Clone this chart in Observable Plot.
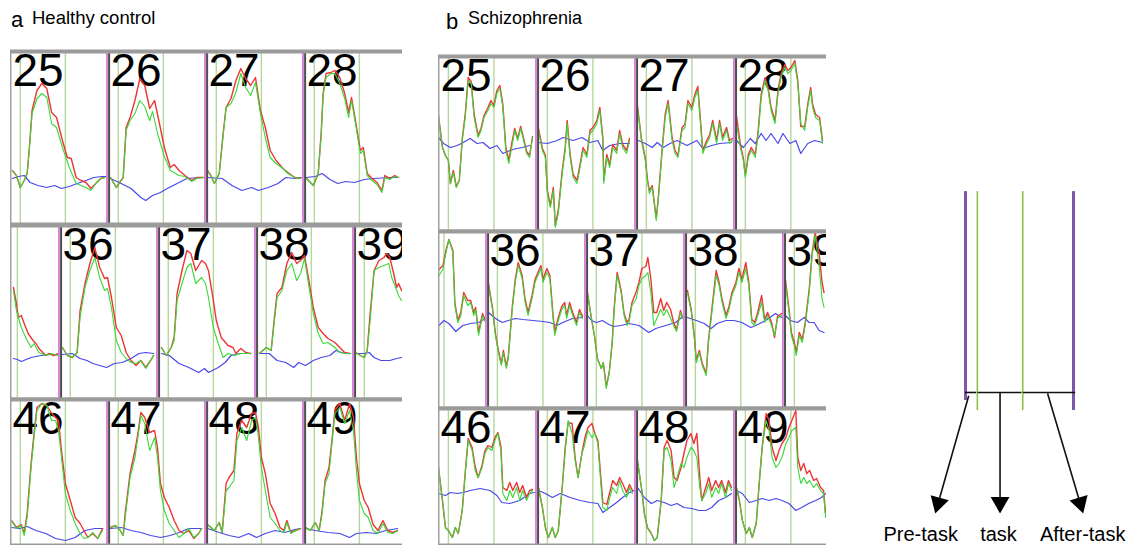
<!DOCTYPE html>
<html><head><meta charset="utf-8">
<script src="https://cdn.jsdelivr.net/npm/d3@7"></script>
<script src="https://cdn.jsdelivr.net/npm/@observablehq/plot@0.6"></script>
<style>
body{margin:0;background:#fff;}
#fig{position:relative;width:1131px;height:545px;overflow:hidden;background:#fff;font-family:"Liberation Sans",Arial,Helvetica,sans-serif;}
.lbl{position:absolute;white-space:nowrap;color:#000;line-height:1;}
.row{position:absolute;overflow:hidden;}
.row text.ch{letter-spacing:-1.5px;}
</style></head><body><div id="fig"></div>
<script>
// ---- task timing (per channel block, time units 0..100) ----
const TASK_ON = 10, TASK_OFF = 56;

// ---- a: Healthy control ----
const hcRow1 = [
 {ch:25, slot:0,
  oxy:[[2,0.8],[6,0.3],[10,-0.9],[14,-0.2],[17,0.5],[19,2.8],[22,6.8],[27,8.8],[32,9.5],[37,9.0],[42,6.6],[47,6.1],[53,3.8],[58,2.1],[62,2.0],[67,0.1],[72,-0.2],[77,-0.4],[82,-1.0],[87,-0.5],[92,0],[96,0.1]],
  total:[[2,0.8],[6,0.3],[10,-0.9],[14,-0.2],[17,0.5],[19,2.6],[22,6.5],[27,8.0],[32,8.5],[37,8.1],[42,5.5],[47,5.1],[53,3.1],[60,1.1],[67,-0.5],[72,-0.7],[77,-0.9],[82,-1.2],[87,-0.5],[92,0],[96,0.1]],
  deoxy:[[2,0],[8,0.2],[14,0.3],[20,-0.4],[28,-0.7],[37,-0.9],[45,-0.7],[52,-1.0],[60,-0.8],[68,-0.5],[77,-0.2],[85,0.1],[93,0.2],[98,0.2]]},
 {ch:26, slot:1,
  oxy:[[2,0.1],[8,-0.9],[12,-0.3],[15,0.1],[18,5.1],[22,6.1],[27,7.8],[32,10.0],[37,9.3],[42,7.0],[47,7.8],[52,5.5],[57,3.1],[63,1.1],[67,1.4],[72,0.8],[78,0.3],[85,-0.2],[90,0.1],[97,0.1]],
  total:[[2,0.1],[8,-0.9],[12,-0.3],[15,0.1],[18,4.8],[22,5.8],[27,6.5],[32,7.8],[37,7.2],[42,5.8],[45,6.7],[50,4.5],[57,2.2],[63,0.8],[72,0.3],[78,0.2],[85,-0.3],[90,0],[97,0.1]],
  deoxy:[[2,0],[13,-0.5],[23,-1.0],[33,-1.9],[38,-2.2],[45,-1.7],[53,-1.4],[60,-1.0],[70,-0.5],[80,0],[93,0.1],[98,0.1]]},
 {ch:27, slot:2,
  oxy:[[1,0.8],[5,0.2],[8,-0.5],[13,0.5],[17,4.5],[20,7.1],[25,8.0],[30,9.8],[35,11.0],[40,10.0],[45,9.3],[50,10.1],[55,6.8],[60,5.1],[65,2.8],[71,1.8],[78,1.0],[83,0.6],[90,0.1],[96,0]],
  total:[[1,0.8],[5,0.2],[8,-0.5],[13,0.5],[17,4.3],[20,7.1],[25,7.5],[30,8.6],[35,10.5],[40,9.1],[45,8.3],[50,9.6],[55,6.5],[60,4.1],[65,2.1],[71,1.5],[78,1.0],[83,0.5],[90,0.1],[96,0]],
  deoxy:[[1,0.1],[16,0],[26,-0.7],[36,-1.2],[46,-0.9],[53,-1.2],[63,-0.9],[73,-0.5],[81,0.1],[90,0],[97,0.1]]},
 {ch:28, slot:3,
  oxy:[[2,0],[9,-0.7],[14,0.5],[17,4.5],[19,8.5],[22,10.5],[27,10.6],[31,10.8],[36,10.1],[41,8.5],[45,6.6],[48,8.1],[52,5.8],[57,2.8],[60,3.1],[64,0.5],[69,0],[74,-0.4],[79,-1.2],[82,0.3],[87,0],[92,0.3],[96,0.1]],
  total:[[2,0],[9,-0.7],[14,0.5],[17,4.3],[19,8.3],[22,10.1],[27,10.5],[31,10.5],[36,9.5],[41,8.0],[45,6.1],[48,7.8],[52,5.5],[57,2.5],[60,2.8],[64,0.3],[69,-0.2],[74,-0.6],[79,-1.4],[82,0.1],[87,-0.1],[92,0.2],[96,0.1]],
  deoxy:[[2,0.1],[11,0.2],[18,0.5],[26,-0.1],[34,-0.5],[42,-0.3],[51,-0.4],[61,-0.1],[71,0],[87,0.1],[96,0.1]]}
];
const hcRow2 = [
 {ch:35, slot:-1,
  oxy:[[52,6.8],[55,5.2],[57,3.8],[60,4.0],[63,3.2],[67,2.2],[72,1.5],[75,1.2],[78,0.7],[82,0.3],[85,0],[88,0.2],[93,0],[98,0.2]],
  total:[[52,6.5],[55,4.5],[60,2.8],[65,1.7],[70,0.8],[73,1.2],[78,0.3],[85,0],[90,0.2],[98,0]],
  deoxy:[[52,-0.3],[56,-0.4],[60,-0.6],[65,-0.4],[70,-0.2],[80,0],[90,0.1],[98,0.1]]},
 {ch:36, slot:0,
  oxy:[[2,0.8],[7,0],[12,-0.2],[17,0.3],[20,4.5],[25,7.2],[30,9.2],[35,10.8],[40,8.8],[45,7.7],[48,7.8],[52,5.8],[57,2.8],[62,2.0],[67,0.3],[72,-0.5],[77,-1.0],[82,-0.5],[87,-1.2],[92,-0.5],[95,0]],
  total:[[2,0.8],[7,0],[12,-0.2],[17,0.3],[20,3.8],[25,6.8],[30,8.5],[35,9.8],[40,7.8],[45,6.5],[48,6.7],[52,4.8],[57,1.5],[62,0.3],[67,-0.3],[72,-0.7],[77,-0.8],[82,-0.5],[87,-1.3],[92,-0.5],[95,0]],
  deoxy:[[2,0.1],[12,0.2],[20,-0.3],[27,-0.5],[33,-0.8],[40,-1.0],[47,-1.2],[55,-0.8],[63,-0.7],[72,-0.3],[80,0.2],[87,0.3],[95,0.2]]},
 {ch:37, slot:1,
  oxy:[[3,0.8],[8,0],[13,0.8],[16,1.8],[19,6.2],[24,8.5],[29,10.5],[33,10.2],[38,8.5],[44,9.5],[48,9.2],[51,8.5],[56,5.5],[59,3.5],[64,1.8],[71,1.0],[76,0.8],[79,0.2],[84,0.7],[89,0.3],[94,0.2]],
  total:[[3,0.8],[8,0],[13,0.8],[16,1.5],[19,5.5],[24,7.2],[29,8.8],[33,9.2],[38,7.2],[44,7.8],[48,7.2],[51,5.8],[56,2.8],[61,1.2],[66,-0.2],[71,0.2],[77,0],[84,0.2],[94,0.2]],
  deoxy:[[3,0.2],[11,0],[21,-0.8],[31,-1.2],[41,-1.7],[47,-1.3],[51,-1.7],[61,-1.2],[68,-0.7],[74,0],[84,0.2],[94,0.2]]},
 {ch:38, slot:2,
  oxy:[[3,0.2],[10,0.8],[15,0.5],[18,3.5],[21,6.2],[26,6.8],[31,9.2],[36,10.3],[41,9.2],[45,9.5],[49,10.0],[53,7.8],[58,4.8],[63,2.8],[68,2.2],[73,1.7],[80,1.3],[85,0.8],[90,0.3],[95,0.2]],
  total:[[3,0.2],[10,0.8],[15,0.5],[18,3.2],[21,5.8],[26,6.5],[31,8.5],[36,9.2],[41,7.5],[45,8.2],[49,9.7],[53,7.2],[58,4.2],[63,2.2],[68,1.2],[73,1.3],[80,0.8],[85,0.3],[90,0.2],[95,0.2]],
  deoxy:[[3,0.2],[13,0.2],[21,-0.5],[30,-0.7],[38,-1.2],[43,-0.7],[50,-1.0],[58,-0.5],[66,-0.2],[75,0],[81,0.5],[90,0.2],[96,0.2]]},
 {ch:39, slot:3,
  oxy:[[1,0.3],[6,0],[10,-0.2],[13,0.5],[16,4.2],[20,8.5],[25,9.5],[30,9.8],[33,10.2],[36,9.8],[40,8.2],[43,6.8],[45,7.2],[48,6.5]],
  total:[[1,0.3],[6,0],[10,-0.2],[13,0.5],[16,3.5],[20,8.5],[25,8.8],[30,9.0],[35,9.2],[38,7.8],[42,6.8],[45,6.0],[48,5.5]],
  deoxy:[[1,0.2],[10,0.2],[15,0.3],[20,-0.2],[27,-0.5],[36,-0.5],[43,-0.3],[48,-0.2]]}
];
const hcRow3 = [
 {ch:46, slot:0,
  oxy:[[1,0.7],[6,0],[11,0.3],[14,-0.6],[17,1.4],[21,6.4],[24,9.4],[27,12.0],[32,12.4],[37,12.2],[42,11.4],[46,11.0],[49,10.7],[52,7.7],[56,4.4],[61,2.7],[66,1.0],[71,0.4],[75,-0.3],[79,-1.0],[84,-0.6],[89,-1.1],[94,-0.1]],
  total:[[1,0.7],[6,-0.1],[11,0.2],[14,-0.8],[17,1.0],[21,6.0],[24,9.0],[27,11.7],[32,12.4],[37,12.2],[42,10.7],[46,10.7],[49,9.7],[52,7.0],[56,3.4],[61,1.7],[66,0.4],[71,-0.6],[75,-1.1],[79,-1.0],[84,-0.5],[89,-1.1],[94,-0.3]],
  deoxy:[[1,0],[9,-0.1],[17,0.1],[26,-0.3],[36,-0.6],[46,-1.1],[56,-1.3],[66,-1.0],[76,-0.3],[86,-0.1],[94,-0.1]]},
 {ch:47, slot:1,
  oxy:[[2,0],[7,0.2],[12,-0.3],[15,-0.8],[17,1.4],[22,5.4],[27,7.7],[30,9.4],[33,11.5],[37,11.0],[42,9.5],[47,9.7],[50,8.0],[53,4.4],[57,3.0],[62,2.0],[67,0.7],[72,-0.3],[77,-0.6],[82,-0.3],[87,-1.1],[92,-0.6],[95,-0.1]],
  total:[[2,0],[7,0.2],[12,-0.3],[15,-0.8],[17,1.0],[22,5.0],[27,7.0],[30,9.0],[33,11.2],[37,10.4],[42,7.7],[47,9.0],[50,7.0],[53,3.7],[57,1.7],[62,0.4],[67,-0.3],[72,-1.0],[77,-0.6],[82,-0.1],[87,-1.0],[92,-0.6],[95,-0.1]],
  deoxy:[[2,-0.1],[13,0],[23,-0.3],[33,-0.5],[43,-0.8],[53,-1.0],[63,-0.8],[72,-0.5],[82,-0.1],[95,-0.1]]},
 {ch:48, slot:2,
  oxy:[[1,0.3],[8,-0.3],[13,0.5],[16,-0.5],[20,4.4],[23,5.0],[28,5.7],[31,9.4],[36,10.7],[41,10.0],[46,11.4],[50,11.5],[53,10.0],[56,7.0],[60,5.4],[65,2.4],[70,1.4],[75,0],[79,-0.3],[82,0.7],[86,-0.5],[91,-0.3],[96,-0.1]],
  total:[[1,0.3],[8,-0.3],[13,0.5],[16,-0.5],[20,3.7],[23,4.0],[28,4.7],[31,8.7],[36,10.0],[41,8.7],[46,10.7],[50,11.0],[53,9.0],[56,6.0],[60,3.7],[65,1.0],[70,0.4],[75,-0.3],[79,-0.5],[82,0.5],[86,-0.6],[91,-0.3],[96,-0.1]],
  deoxy:[[1,-0.1],[13,-0.5],[23,-0.8],[33,-1.0],[43,-0.6],[51,-1.0],[60,-0.6],[70,-0.3],[80,-0.5],[90,-0.2],[96,-0.1]]},
 {ch:49, slot:3,
  oxy:[[1,0],[6,-0.3],[11,0.5],[15,-0.3],[18,1.7],[21,4.7],[25,6.0],[28,8.7],[31,11.7],[36,12.4],[41,10.7],[46,12.4],[50,11.0],[53,7.0],[56,4.4],[61,2.7],[65,2.0],[70,0.3],[75,-0.3],[80,0.7],[85,-0.3],[90,-0.5],[95,-0.3]],
  total:[[1,0],[6,-0.3],[11,0.5],[15,-0.3],[18,1.4],[21,4.4],[25,5.4],[28,8.4],[31,11.4],[36,12.0],[41,10.4],[46,11.7],[50,9.7],[53,5.7],[56,2.7],[61,1.4],[65,1.0],[70,-0.3],[75,-0.6],[80,0.4],[85,-0.5],[90,-0.6],[95,-0.3]],
  deoxy:[[1,-0.1],[11,-0.3],[24,-0.5],[36,-0.6],[46,-1.0],[53,-0.6],[63,-0.5],[73,-0.6],[83,-0.3],[95,-0.1]]}
];

// ---- b: Schizophrenia ----
const szRow1 = [
 {ch:25, slot:0,
  oxy:[[0,2.5],[4,-0.7],[7,-1.5],[10,-2.0],[12,-4.3],[15,-3.0],[18,-4.6],[21,-4.0],[24,0.2],[27,2.6],[30,6.3],[33,5.9],[36,2.6],[40,0.5],[43,1.2],[46,2.5],[50,3.3],[53,4.0],[56,3.5],[59,5.0],[62,5.5],[65,3.6],[68,-0.7],[71,-2.0],[74,-0.3],[77,1.2],[80,0.2],[83,1.4],[86,0.2],[89,-1.1],[92,-1.5],[95,0.4]],
  total:[[0,2.3],[4,-0.7],[7,-1.5],[10,-2.0],[12,-4.3],[15,-3.2],[18,-4.7],[21,-4.0],[24,0],[27,2.3],[30,6.0],[33,5.7],[36,2.3],[40,0.3],[43,1.0],[46,2.3],[50,3.0],[53,3.7],[56,3.3],[59,4.7],[62,5.2],[65,3.3],[68,-1.0],[71,-2.3],[74,-0.7],[77,1.0],[80,0],[83,1.2],[86,0],[89,-1.3],[92,-1.7],[95,0.3]],
  deoxy:[[0,0.3],[5,-0.3],[12,-0.7],[19,-0.5],[25,-0.2],[32,0.2],[39,-0.3],[45,-0.2],[52,-0.8],[59,-0.5],[65,-1.3],[72,-1.0],[79,-0.8],[85,-0.7],[92,-0.5]]},
 {ch:26, slot:1,
  oxy:[[1,1.2],[5,-0.8],[8,-1.5],[10,-5.0],[13,-6.5],[16,-4.7],[18,-8.5],[21,-7.0],[25,-3.0],[28,-0.7],[30,2.0],[33,-1.4],[36,-3.4],[40,-4.0],[43,-2.4],[46,-0.7],[50,-1.4],[53,1.0],[56,1.3],[60,2.0],[63,3.3],[66,0.3],[67,-4.0],[70,-1.4],[73,-2.4],[76,-0.4],[80,-1.0],[83,1.0],[86,-0.4],[90,-1.0],[93,0.2]],
  total:[[1,1.0],[5,-1.0],[8,-1.7],[10,-5.3],[13,-6.7],[16,-5.0],[18,-8.7],[21,-7.3],[25,-3.3],[28,-1.0],[30,1.7],[33,-1.7],[36,-3.7],[40,-4.3],[43,-2.7],[46,-1.0],[50,-1.7],[53,0.7],[56,1.0],[60,1.7],[63,3.0],[66,0],[67,-4.3],[70,-1.7],[73,-2.7],[76,-0.7],[80,-1.3],[83,0.7],[86,-0.7],[90,-1.3],[93,0]],
  deoxy:[[1,-0.2],[10,-0.3],[20,0],[26,0.3],[36,0],[45,0.3],[53,-0.2],[61,0],[66,-1.0],[73,-0.5],[83,-0.3],[93,-0.3]]},
 {ch:27, slot:2,
  oxy:[[1,3.5],[5,0.2],[9,-1.8],[11,-3.8],[13,-5.0],[16,-4.5],[19,-7.0],[20,-7.8],[22,-5.8],[26,-0.8],[29,2.6],[32,4.0],[36,0.3],[39,-1.0],[42,-1.5],[46,1.3],[49,1.6],[52,4.0],[56,3.3],[59,4.6],[62,5.4],[65,1.6],[67,-1.0],[71,0],[74,0.6],[77,2.0],[81,0],[84,2.0],[87,0.3],[91,1.3],[94,0],[97,0.2]],
  total:[[1,3.3],[5,0],[9,-2.0],[11,-4.0],[13,-5.3],[16,-4.7],[19,-7.2],[20,-8.0],[22,-6.0],[26,-1.0],[29,2.3],[32,3.7],[36,0],[39,-1.3],[42,-1.7],[46,1.0],[49,1.3],[52,3.7],[56,3.0],[59,4.3],[62,5.0],[65,1.3],[67,-1.3],[71,-0.3],[74,0.3],[77,1.7],[81,-0.3],[84,1.7],[87,0],[91,1.0],[94,-0.3],[97,0]],
  deoxy:[[2,0],[9,-0.3],[16,-0.7],[21,-0.2],[27,-0.7],[34,-0.3],[41,0],[51,-0.5],[61,0],[67,-0.8],[76,-0.5],[84,-0.3],[96,-0.2]]},
 {ch:28, slot:3,
  oxy:[[1,2.5],[5,-0.4],[8,-1.8],[10,-3.5],[13,-1.4],[16,-0.7],[20,-1.4],[23,1.0],[26,4.6],[30,6.3],[33,5.3],[36,3.3],[40,2.0],[43,5.0],[46,6.6],[50,7.6],[53,7.0],[56,7.3],[60,8.0],[63,6.0],[66,1.4],[70,1.4],[73,3.6],[76,5.3],[78,3.6],[81,2.6],[85,2.3],[88,0]],
  total:[[1,1.7],[5,-0.7],[8,-2.0],[10,-3.7],[13,-1.7],[16,-1.0],[20,-1.7],[23,0.7],[26,4.3],[30,6.0],[33,5.0],[36,3.0],[40,1.7],[43,4.7],[46,6.3],[50,7.3],[53,6.7],[56,7.0],[60,7.7],[63,5.7],[66,1.7],[70,1.0],[73,3.3],[76,5.0],[78,3.3],[81,2.3],[85,2.0],[88,-0.3]],
  deoxy:[[1,0],[8,-0.7],[15,0.2],[20,-0.3],[26,0.7],[31,0],[36,0.7],[43,-0.3],[48,0.7],[55,-0.3],[61,0],[66,-1.3],[73,-0.3],[80,0],[88,-0.2]]}
];
const szRow2 = [
 {ch:35, slot:-1,
  oxy:[[51,5.3],[55,5.7],[58,7.2],[61,8.3],[65,7.2],[67,2.0],[70,0.2],[73,1.0],[76,3.0],[80,2.2],[83,2.2],[86,1.0],[88,1.5],[91,-1.0],[95,0.9],[98,0.2]],
  total:[[51,4.7],[55,5.3],[58,7.0],[61,8.3],[65,7.0],[67,1.7],[70,0],[73,0.7],[76,2.7],[80,1.7],[83,2.0],[86,0.7],[88,1.3],[91,-1.3],[95,0.7],[98,0]],
  deoxy:[[51,-0.3],[56,0.2],[61,-0.1],[68,-0.9],[75,-0.3],[83,-0.1],[91,0],[98,0.4]]},
 {ch:36, slot:0,
  oxy:[[1,3.9],[5,1.5],[8,-1.1],[11,-2.8],[14,-4.1],[16,-2.8],[19,-4.4],[21,-3.4],[25,1.5],[28,4.3],[31,6.0],[35,4.7],[38,2.3],[41,1.0],[45,2.7],[48,4.3],[51,5.0],[54,5.7],[56,4.3],[60,5.4],[63,4.7],[66,1.0],[68,-1.0],[71,0.3],[75,1.6],[78,2.0],[80,0.7],[83,2.0],[86,1.0],[90,0],[93,1.3],[96,0.6]],
  total:[[1,3.7],[5,1.3],[8,-1.3],[11,-3.0],[14,-4.3],[16,-3.0],[19,-4.6],[21,-3.6],[25,1.3],[28,4.0],[31,5.7],[35,4.4],[38,2.0],[41,0.7],[45,2.4],[48,4.0],[51,4.7],[54,5.4],[56,4.0],[60,5.0],[63,4.4],[66,0.7],[68,-1.3],[71,0],[75,1.3],[78,1.7],[80,0.4],[83,1.7],[86,0.7],[90,-0.3],[93,1.0],[96,0.4]],
  deoxy:[[1,1.0],[8,0.4],[15,0],[21,0.2],[28,0.4],[36,0.3],[46,0.2],[56,0.1],[63,0],[70,-0.3],[76,0],[86,0.4],[96,0.5]]},
 {ch:37, slot:1,
  oxy:[[1,3.0],[5,0.4],[8,-1.3],[11,-3.6],[15,-4.6],[17,-4.0],[20,-6.4],[23,-5.0],[26,-2.0],[28,1.5],[31,5.0],[35,3.2],[38,0.9],[41,0],[43,0.3],[46,2.0],[50,3.0],[53,4.0],[56,5.4],[60,5.6],[62,6.5],[65,4.4],[68,1.0],[71,1.0],[75,2.4],[78,1.2],[81,2.0],[85,1.3],[88,0],[91,-0.7],[95,1.2],[97,0.5]],
  total:[[1,3.0],[5,0.4],[8,-1.3],[11,-3.6],[15,-4.6],[17,-4.0],[20,-6.6],[23,-5.0],[26,-2.0],[28,1.3],[31,4.7],[35,3.0],[38,0.7],[41,-0.3],[43,0],[46,1.7],[50,2.3],[53,3.7],[56,4.4],[60,4.7],[62,5.0],[65,3.0],[68,-0.3],[71,0.4],[75,1.3],[78,0.7],[81,1.3],[85,0.4],[88,-0.3],[91,-0.9],[95,1.0],[97,0.4]],
  deoxy:[[1,0.7],[5,0.2],[10,0],[16,0.2],[21,-0.1],[27,-0.4],[35,-0.3],[43,-0.1],[53,-0.3],[63,-1.0],[70,-0.6],[80,-0.3],[90,0],[96,0.5]]},
 {ch:38, slot:2,
  oxy:[[2,3.2],[6,1.2],[9,-1.4],[11,-3.8],[14,-2.8],[17,-4.1],[21,-5.1],[23,-2.0],[27,1.6],[31,5.2],[34,4.0],[37,2.3],[41,0.7],[44,1.6],[47,3.0],[51,4.0],[54,5.4],[57,4.3],[61,6.0],[64,4.0],[67,0.3],[70,0],[73,1.0],[77,2.7],[80,0.3],[83,1.0],[87,0],[90,-1.5],[93,0.6],[97,0.9]],
  total:[[2,3.0],[6,1.0],[9,-1.6],[11,-4.0],[14,-3.0],[17,-4.3],[21,-5.3],[23,-2.3],[27,1.3],[31,4.7],[34,3.7],[37,2.0],[41,0.4],[44,1.3],[47,2.7],[51,3.7],[54,5.0],[57,4.0],[61,5.4],[64,3.7],[67,0],[70,-0.3],[73,0.7],[77,2.0],[80,0],[83,0.7],[87,-0.3],[90,-1.3],[93,0.4],[97,0.7]],
  deoxy:[[2,0.5],[11,0.2],[19,-0.1],[26,-0.6],[32,-0.1],[41,0.2],[49,0.2],[57,0],[66,-0.5],[71,-0.3],[81,0.2],[91,0.9],[97,0.5]]},
 {ch:39, slot:3,
  oxy:[[1,4.3],[5,1.0],[7,-1.0],[10,-2.0],[12,-3.0],[15,-1.0],[18,-1.7],[21,0],[25,3.3],[28,7.0],[31,9.0],[35,7.0],[38,4.0],[40,3.0]],
  total:[[1,4.0],[5,0.7],[7,-1.3],[10,-2.3],[12,-3.3],[15,-1.3],[18,-2.0],[21,-0.3],[25,3.0],[28,6.7],[31,8.7],[35,5.7],[38,2.4],[40,1.5]],
  deoxy:[[1,0.7],[6,0.2],[13,0],[20,0.5],[25,0],[30,0],[35,-0.8],[40,-1.0]]}
];
const szRow3 = [
 {ch:46, slot:0,
  oxy:[[0,2.5],[4,-0.8],[7,-3.5],[10,-3.8],[14,-4.5],[17,-3.5],[20,-4.1],[24,-1.8],[27,2.0],[30,5.4],[34,4.5],[37,2.6],[40,1.5],[44,2.7],[47,4.2],[50,4.7],[54,4.5],[57,5.5],[60,6.0],[63,4.6],[65,0.5],[69,0.2],[72,1.0],[75,0.2],[79,1.0],[82,0],[85,0.7],[89,-0.5],[92,0.2],[95,0.3]],
  total:[[0,2.5],[4,-0.8],[7,-3.5],[10,-3.8],[14,-4.5],[17,-3.5],[20,-4.1],[24,-1.8],[27,1.9],[30,5.2],[34,4.2],[37,2.2],[40,1.5],[44,2.5],[47,3.9],[50,4.5],[54,4.2],[57,5.2],[60,5.9],[63,4.2],[65,-0.1],[69,-0.8],[72,0.2],[75,-0.5],[79,0.5],[82,-0.8],[85,0.2],[89,-0.8],[92,-0.1],[95,0.2]],
  deoxy:[[0,-0.1],[7,-0.3],[12,0],[19,-0.1],[25,0],[32,0.2],[42,0.4],[52,0.2],[59,-0.3],[64,-1.0],[72,-1.1],[82,-0.8],[92,-0.1],[97,0]]},
 {ch:47, slot:1,
  oxy:[[1,0.5],[5,-1.5],[8,-3.5],[11,-4.5],[15,-3.5],[18,-4.5],[21,-3.8],[25,0.5],[28,4.5],[31,7.0],[35,6.9],[38,3.5],[41,1.5],[45,4.0],[48,5.5],[51,6.5],[55,6.9],[58,5.9],[61,5.2],[64,1.5],[66,-1.0],[70,-1.2],[73,0],[76,1.2],[80,0.7],[83,1.5],[86,0.9],[90,0],[93,0.8],[96,0.2]],
  total:[[1,0.5],[5,-1.5],[8,-3.5],[11,-4.5],[15,-3.5],[18,-4.5],[21,-3.8],[25,0.5],[28,4.2],[31,7.2],[35,5.9],[38,3.2],[41,1.5],[45,3.9],[48,4.9],[51,6.2],[55,5.5],[58,5.9],[61,4.9],[64,0.9],[66,-1.5],[70,-1.8],[73,-0.5],[76,0.5],[80,-0.1],[83,1.2],[86,0.2],[90,-0.5],[93,0.5],[96,-0.1]],
  deoxy:[[1,0.2],[8,-0.1],[15,-0.5],[23,-0.1],[33,-0.5],[43,-0.8],[53,-1.0],[61,-1.1],[66,-2.0],[73,-1.5],[80,-1.0],[86,-0.5],[93,0],[98,0.2]]},
 {ch:48, slot:2,
  oxy:[[1,3.2],[5,0.5],[8,-2.1],[11,-3.5],[15,-4.1],[18,-4.8],[21,-4.5],[25,-0.8],[28,4.5],[31,5.2],[35,4.2],[38,1.5],[41,1.2],[45,2.5],[48,3.9],[51,5.2],[55,5.9],[58,4.9],[61,5.9],[64,1.5],[66,-0.8],[70,0.5],[73,1.5],[76,0.2],[80,1.2],[83,0.5],[86,1.2],[90,0],[93,1.2],[96,0.5]],
  total:[[1,3.2],[5,0.5],[8,-2.1],[11,-3.5],[15,-4.1],[18,-4.8],[21,-4.5],[25,-0.8],[28,4.2],[31,4.5],[35,3.2],[38,0.5],[41,1.5],[45,2.9],[48,2.5],[51,3.5],[55,4.5],[58,4.2],[61,3.5],[64,0.5],[66,-0.8],[70,-0.1],[73,0.9],[76,-0.5],[80,0.5],[83,-0.1],[86,0.9],[90,-0.5],[93,0.9],[96,0.2]],
  deoxy:[[1,0.5],[8,-0.5],[15,-1.1],[21,-0.8],[28,-1.0],[35,-1.3],[41,-1.1],[48,-1.5],[56,-1.6],[63,-1.8],[70,-1.8],[76,-1.5],[83,-0.8],[90,-0.5],[96,-0.1]]},
 {ch:49, slot:3,
  oxy:[[1,0.5],[4,-0.8],[7,-2.8],[11,-4.1],[14,-3.5],[17,-4.5],[21,-3.1],[24,0.9],[27,4.5],[31,7.9],[34,7.2],[37,4.5],[41,3.2],[44,4.2],[47,4.9],[51,5.5],[54,6.5],[57,7.2],[61,8.2],[63,3.5],[66,2.2],[69,2.9],[72,1.9],[75,2.2],[79,1.2],[82,1.4],[86,0.5],[89,0.2],[91,-2.0]],
  total:[[1,0.5],[4,-0.8],[7,-2.8],[11,-4.1],[14,-3.5],[17,-4.5],[21,-3.1],[24,0.9],[27,4.5],[31,7.2],[34,6.2],[37,3.5],[41,2.5],[44,2.9],[47,3.5],[51,4.9],[54,5.5],[57,6.2],[61,6.5],[63,2.5],[66,0.9],[69,1.5],[72,0.9],[75,1.2],[79,0.5],[82,0.9],[86,0.2],[89,-0.1],[91,-2.5]],
  deoxy:[[1,0.2],[7,-0.1],[14,-1.0],[21,-0.8],[27,-0.6],[34,-0.8],[41,-0.6],[47,-0.8],[54,-1.1],[61,-1.8],[67,-1.5],[74,-1.1],[81,-0.8],[87,-0.5],[91,-0.1]]}
];

// ---- schematic (right) in block time units ----
const windowEdges = [{t:0, top:186, bottom:-7.4},{t:100, top:186, bottom:-16.7}];
const taskEdges = [{t:11, top:186, bottom:-16.7},{t:53, top:186, bottom:-16.7}];
const phaseBar = [{from:0, to:10.4},{from:11.6, to:52.4},{from:53.6, to:102}];
const phaseArrows = [
  {label:"Pre-task",   x1:3,  y1:-3, x2:-28, y2:-112, lx:-41.5},
  {label:"task",       x1:32, y1:0,  x2:32,  y2:-112, lx:30.6},
  {label:"After-task", x1:76, y1:-1, x2:109, y2:-112, lx:108.5}
];

// ---- layout ----
const PAD = 14; // room above each strip so the big channel numbers are not clipped
const rowLayout = [
  {cells:hcRow1, left:10,  top:51,  width:392, height:173, x:[0,400],       y:[-4.6,12.7]},
  {cells:hcRow2, left:10,  top:225, width:392, height:174, x:[-51,349],     y:[-4.4,13.0]},
  {cells:hcRow3, left:10,  top:399, width:392, height:146, x:[0,400],       y:[-1.8,12.8]},
  {cells:szRow1, left:438, top:56,  width:388, height:175, x:[0,392],       y:[-9.1,8.4]},
  {cells:szRow2, left:438, top:231, width:388, height:177, x:[-49.5,342.5], y:[-8.6,9.1]},
  {cells:szRow3, left:438, top:408, width:388, height:137, x:[0,392],       y:[-5.3,8.4]}
];
const COL = {oxy:"#ee3535", total:"#39d839", deoxy:"#4848ec"};
const FONT = "Liberation Sans, Arial, Helvetica, sans-serif";
const fig = document.getElementById("fig");

function addLabel(text, left, top, size) {
  const d = document.createElement("div");
  d.className = "lbl"; d.textContent = text;
  d.style.left = left + "px"; d.style.top = top + "px"; d.style.fontSize = size + "px";
  fig.appendChild(d);
}
addLabel("a", 11, 9, 22);
addLabel("Healthy control", 32, 9, 18.5);
addLabel("b", 446, 11, 22);
addLabel("Schizophrenia", 468, 9, 18);

function drawRow(L) {
  const cells = L.cells;
  const pts = s => cells.flatMap(c => c[s].map(([t, v]) => ({x: c.slot * 100 + t, y: v, k: c.ch})));
  const bounds = cells.map(c => c.slot * 100).filter(x => x > L.x[0]);
  const taskLines = cells.flatMap(c => [c.slot * 100 + TASK_ON, c.slot * 100 + TASK_OFF]);
  const labelled = cells.filter(c => c.slot >= 0);
  const plot = Plot.plot({
    width: L.width, height: L.height + PAD, marginTop: PAD, marginRight: 0, marginBottom: 0, marginLeft: 0,
    x: {domain: L.x, axis: null}, y: {domain: L.y, axis: null},
    style: {background: "transparent", fontFamily: FONT, overflow: "visible"},
    marks: [
      Plot.ruleX(taskLines, {y1: () => L.y[0], y2: () => L.y[1], stroke: "#b6d79c", strokeWidth: 1.4}),
      Plot.text(labelled, {x: c => c.slot * 100, y: () => L.y[1], text: c => String(c.ch), textAnchor: "start", lineAnchor: "top", dx: 2, dy: 2, fontSize: 46, fill: "#000", className: "ch"}),
      Plot.line(pts("deoxy"), {x: "x", y: "y", z: "k", stroke: COL.deoxy, strokeWidth: 1.2}),
      Plot.line(pts("oxy"), {x: "x", y: "y", z: "k", stroke: COL.oxy, strokeWidth: 1.4}),
      Plot.line(pts("total"), {x: "x", y: "y", z: "k", stroke: COL.total, strokeWidth: 1.1}),
      Plot.ruleX(bounds, {y1: () => L.y[0], y2: () => L.y[1], stroke: "#d67ad6", strokeWidth: 1.8, dx: -1.5}),
      Plot.ruleX(bounds, {y1: () => L.y[0], y2: () => L.y[1], stroke: "#4e4e4e", strokeWidth: 2, dx: 0.6}),
      Plot.ruleX([L.x[0]], {y1: () => L.y[0], y2: () => L.y[1], stroke: "#a0a0a0", strokeWidth: 2}),
      Plot.ruleY([L.y[1]], {stroke: "#9b9b9b", strokeWidth: 4}),
      Plot.ruleY([L.y[0]], {stroke: "#9b9b9b", strokeWidth: 4})
    ]
  });
  const wrap = document.createElement("div");
  wrap.className = "row";
  Object.assign(wrap.style, {left: L.left + "px", top: (L.top - PAD) + "px", width: L.width + "px", height: (L.height + PAD) + "px"});
  wrap.appendChild(plot);
  fig.appendChild(wrap);
}
rowLayout.forEach(drawRow);

// schematic
(function () {
  const S = {left: 860, top: 180, width: 271, height: 365, x: [-97.2, 153.7], y: [-141.7, 196.3]};
  const pxPerUnit = S.width / (S.x[1] - S.x[0]);
  const headBack = 10.9 / pxPerUnit;
  const heads = phaseArrows.map(a => {
    const dx = a.x2 - a.x1, dy = a.y2 - a.y1, len = Math.hypot(dx, dy);
    return {...a, hx: a.x2 - dx / len * headBack, hy: a.y2 - dy / len * headBack,
            rot: Math.atan2(dx, dy) * 180 / Math.PI};
  });
  const plot = Plot.plot({
    width: S.width, height: S.height, margin: 0,
    x: {domain: S.x, axis: null}, y: {domain: S.y, axis: null},
    style: {background: "transparent", fontFamily: FONT},
    marks: [
      Plot.ruleX(windowEdges, {x: "t", y1: "bottom", y2: "top", stroke: "#7d57a8", strokeWidth: 3}),
      Plot.ruleX(taskEdges, {x: "t", y1: "bottom", y2: "top", stroke: "#8bc34a", strokeWidth: 1.6}),
      Plot.ruleY(phaseBar, {x1: "from", x2: "to", y: () => 0, stroke: "#111", strokeWidth: 1.6}),
      Plot.link(heads, {x1: "x1", y1: "y1", x2: "hx", y2: "hy", stroke: "#111", strokeWidth: 1.6}),
      Plot.dot(heads, {x: "hx", y: "hy", symbol: "triangle", r: 7, fill: "#000", stroke: "none", rotate: "rot"}),
      Plot.text(phaseArrows, {x: "lx", y: () => -131.5, text: "label", fontSize: 20, fill: "#000"})
    ]
  });
  const wrap = document.createElement("div");
  wrap.className = "row";
  Object.assign(wrap.style, {left: S.left + "px", top: S.top + "px", width: S.width + "px", height: S.height + "px"});
  wrap.appendChild(plot);
  fig.appendChild(wrap);
})();
</script></body></html>
